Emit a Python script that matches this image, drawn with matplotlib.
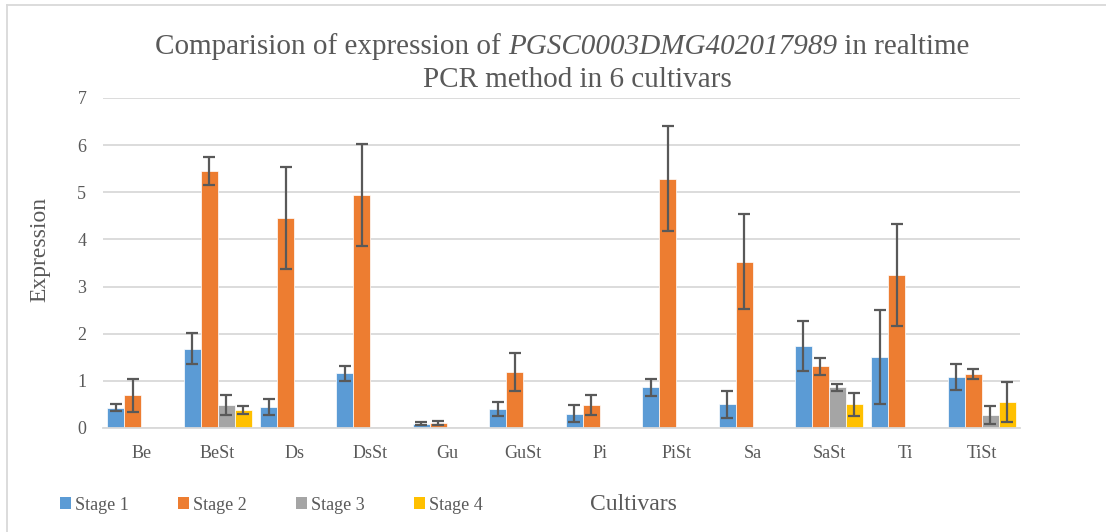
import numpy as np
import matplotlib
matplotlib.use("Agg")
import matplotlib.pyplot as plt
from matplotlib.patches import Patch
from matplotlib.lines import Line2D

# Relative expression (mean and error) per cultivar and developmental stage
categories = ["Be", "BeSt", "Ds", "DsSt", "Gu", "GuSt", "Pi", "PiSt", "Sa", "SaSt", "Ti", "TiSt"]
nan = np.nan
stage1 = [0.43, 1.68, 0.45, 1.16, 0.09, 0.40, 0.30, 0.86, 0.50, 1.74, 1.50, 1.08]
stage1_err = [0.07, 0.33, 0.17, 0.16, 0.03, 0.15, 0.18, 0.18, 0.28, 0.53, 1.00, 0.27]
stage2 = [0.69, 5.45, 4.45, 4.95, 0.11, 1.19, 0.48, 5.29, 3.53, 1.31, 3.25, 1.15]
stage2_err = [0.34, 0.30, 1.08, 1.08, 0.04, 0.40, 0.21, 1.12, 1.00, 0.18, 1.08, 0.10]
stage3 = [nan, 0.48, nan, nan, nan, nan, nan, nan, nan, 0.86, nan, 0.27]
stage3_err = [nan, 0.21, nan, nan, nan, nan, nan, nan, nan, 0.08, nan, 0.19]
stage4 = [nan, 0.38, nan, nan, nan, nan, nan, nan, nan, 0.50, nan, 0.55]
stage4_err = [nan, 0.08, nan, nan, nan, nan, nan, nan, nan, 0.25, nan, 0.43]
series_names = ["Stage 1", "Stage 2", "Stage 3", "Stage 4"]
yticks = [0, 1, 2, 3, 4, 5, 6, 7]

colors = ["#5B9BD5", "#ED7D31", "#A5A5A5", "#FFC000"]
text_color = "#595959"
grid_color = "#D9D9D9"
serif = "Liberation Serif"

plt.rcParams["font.family"] = serif

W, H = 1106, 532
fig = plt.figure(figsize=(W / 100, H / 100), dpi=100)
ax = fig.add_axes([103 / W, 1 - 428 / H, (1020 - 103) / W, (428 - 98) / H])

x = np.arange(len(categories))
bw = 0.2225
series = [(stage1, stage1_err), (stage2, stage2_err), (stage3, stage3_err), (stage4, stage4_err)]
for k, (vals, errs) in enumerate(series):
    vals = np.asarray(vals, dtype=float)
    errs = np.asarray(errs, dtype=float)
    pos = x + (k - 1.5) * bw
    m = ~np.isnan(vals)
    ax.bar(pos[m], vals[m], width=bw, color=colors[k], edgecolor="white",
           linewidth=0.5, zorder=2)
    ax.errorbar(pos[m], vals[m], yerr=errs[m], fmt="none", ecolor="#595959",
                elinewidth=1.6, capsize=4.3, capthick=1.6, zorder=3)

ax.set_xlim(-0.5, len(categories) - 0.5)
ax.set_ylim(0, 7)
ax.set_yticks(yticks)
ax.set_xticks(x)
ax.set_xticklabels(categories)
ax.grid(axis="y", color=grid_color, linewidth=1.3, zorder=0)
ax.set_axisbelow(True)
for s in ["top", "right", "left"]:
    ax.spines[s].set_visible(False)
ax.spines["bottom"].set_color(grid_color)
ax.spines["bottom"].set_linewidth(1.3)
ax.tick_params(axis="both", length=0, labelcolor=text_color, labelsize=13)
ax.tick_params(axis="y", pad=12)
ax.tick_params(axis="x", pad=12)

# Axis titles
fig.text(40 / W, 1 - 250 / H, "Expression", rotation=90, ha="center", va="center",
         fontsize=17, color=text_color)
fig.text(633 / W, 1 - 505 / H, "Cultivars", ha="center", va="center",
         fontsize=17, color=text_color)

# Two-line chart title with the gene identifier in italics
renderer = fig.canvas.get_renderer()
title_size = 21


def draw_line(pieces, cx, cy):
    widths = []
    for txt, style in pieces:
        t = fig.text(0, 0, txt, fontsize=title_size, style=style, color=text_color)
        widths.append(t.get_window_extent(renderer).width)
        t.remove()
    start = cx - sum(widths) / 2
    for (txt, style), w in zip(pieces, widths):
        fig.text(start / W, 1 - cy / H, txt, fontsize=title_size, style=style,
                 color=text_color, ha="left", va="baseline")
        start += w


draw_line([("Comparision of expression of ", "normal"),
           ("PGSC0003DMG402017989", "italic"),
           (" in realtime", "normal")], 562, 54)
draw_line([("PCR method in 6 cultivars", "normal")], 577, 87)

# Legend
handles = [Patch(facecolor=c, edgecolor="none") for c in colors]
fig.legend(handles, series_names, loc="center left", bbox_to_anchor=(60 / W, 1 - 505 / H),
           ncol=4, frameon=False, fontsize=13, handlelength=0.6, handleheight=0.6,
           handletextpad=0.25, columnspacing=2.7, borderpad=0, borderaxespad=0,
           labelcolor=text_color)

# Chart area border (left and top edges)
fig.add_artist(Line2D([7 / W, 7 / W], [0, 1 - 5 / H], color=grid_color, linewidth=1.3))
fig.add_artist(Line2D([7 / W, 1], [1 - 5 / H, 1 - 5 / H], color=grid_color, linewidth=1.3))

fig.savefig("out.png", dpi=100)
